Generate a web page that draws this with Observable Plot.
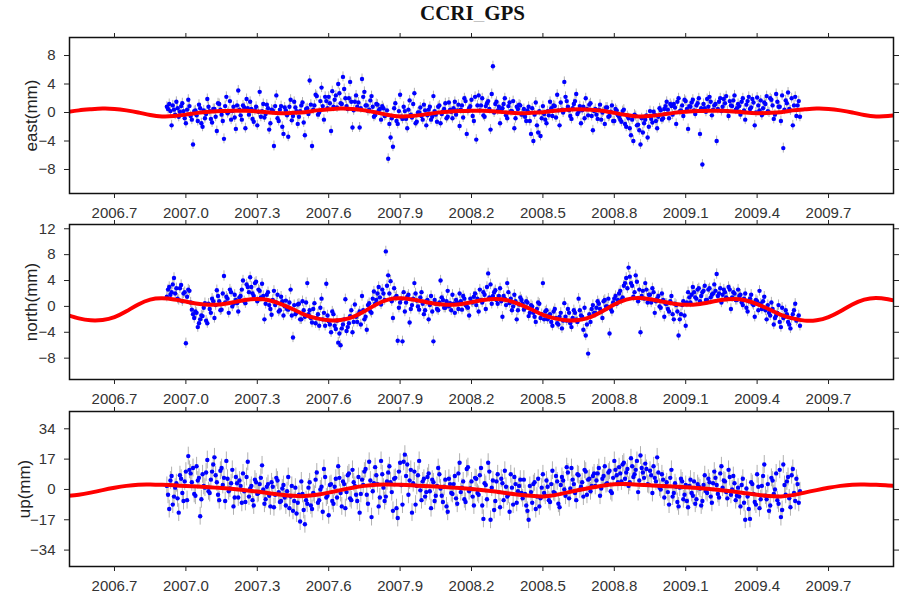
<!DOCTYPE html>
<html>
<head>
<meta charset="utf-8">
<script src="https://cdn.jsdelivr.net/npm/d3@7"></script>
<script src="https://cdn.jsdelivr.net/npm/@observablehq/plot@0.6"></script>
<style>
  html, body { margin: 0; padding: 0; background: #fff; }
  #wrap { position: relative; width: 901px; height: 598px; overflow: hidden; }
  #title { position: absolute; left: 22px; top: 1px; width: 901px; text-align: center;
           font-family: "Liberation Serif", "Times New Roman", serif; font-weight: bold; font-size: 21px; line-height: 24px; color: #111; }
  .panel { position: absolute; left: 0; }
</style>
</head>
<body>
<div id="wrap">
  <div id="title"></div>
</div>
<script>
const titleText = "CCRI_GPS";
const xTickLabels = ["2006.7","2007.0","2007.3","2007.6","2007.9","2008.2","2008.5","2008.8","2009.1","2009.4","2009.7"];
const xDomain = [2006.511, 2009.973];

// observation epochs: two interleaved sets, first epochs and sampling step (years)
const obsStartA = 2006.92;
const obsStartB = 2006.925;
const obsStep = 0.01;

const eastValues = [
  0.8, 1.2, -1.8, 0.4, 1.5, -0.6, 0.9, 0.2, -1.5, 1.8,
  -0.5, -4.5, 0.3, -1.2, 0.6, -2.0, -0.8, 1.9, 0.2, -1.4,
  0.5, -2.6, 1.2, -0.3, -3.7, 2.2, 0.1, -1.0, 0.8, -2.3,
  3.1, -0.4, 1.0, -2.2, 0.6, 1.5, -0.9, 0.3, -1.8, 2.9,
  0.2, -0.7, 1.1, -2.4, 0.4, -4.7, 2.4, -1.2, 0.9, -3.0,
  0.3, -3.4, 1.8, -0.5, 0.7, -1.6, 0.2, 1.4, -3.2, 0.6,
  4.5, -4.7, 1.0, 2.3, 0.0, 3.5, -1.0, 1.6, 2.2, -2.6,
  0.8, 2.4, 4.0, 1.3, 5.0, 2.0, 0.5, 4.3, -2.1, 1.5,
  0.8, -2.1, 4.7, 2.9, 1.0, 0.4, 2.3, -0.6, 1.2, 0.3,
  -1.0, 0.6, -0.4, -6.5, -3.5, -4.8, 1.3, -1.6, 2.5, -0.9,
  0.2, -2.2, 1.7, -0.7, 2.7, -1.3, 0.0, -0.5, 1.1, -1.8,
  0.4, -1.0, 2.3, -0.3, 0.8, -1.5, 0.1, 1.3, -0.6, 0.4,
  -0.8, 1.5, 0.3, -1.9, 1.0, 2.0, -3.0, 0.6, 1.8, -1.2,
  -3.8, 2.4, 1.0, -0.4, 0.9, 1.6, -2.4, 6.5, 1.2, 0.3,
  -1.5, 0.6, 2.0, -0.8, 1.4, 0.2, -2.2, 0.8, 1.1, -0.3,
  0.5, -1.2, 0.8, -3.0, -4.0, 1.4, -2.8, -3.3, 0.9, -1.0,
  0.2, 1.5, -0.5, 0.9, 2.5, -1.8, 0.4, 4.3, 1.6, 0.3,
  -0.9, 1.2, 2.6, 0.1, -1.5, 0.8, 2.0, -0.4, 1.3, -2.5,
  0.5, -0.9, 1.1, 0.0, -1.6, 0.7, -0.5, 1.0, -1.2, 0.3,
  -0.6, -1.3, 0.4, -2.0, -0.8, -3.2, -4.0, -0.5, -1.7, -4.5,
  -2.8, -1.0, -3.5, 0.2, -1.4, -0.3, -2.2, 0.6, -1.0, 0.5,
  1.5, -0.8, 0.9, 1.2, -1.6, 2.0, 0.3, -0.5, 1.6, -2.3,
  0.8, 1.8, -0.2, 1.3, -3.0, -7.3, 0.6, 1.9, 2.2, -0.4,
  1.0, -4.0, 1.5, 0.2, 1.9, 2.3, -0.5, 1.0, 1.7, 0.4,
  1.2, -0.3, 2.0, -1.0, 1.6, 0.5, 1.9, -1.8, 2.1, 0.3,
  -0.4, 1.4, 2.3, 0.0, 1.8, -0.9, 2.6, 0.8, -1.2, -5.0,
  1.7, 2.8, 0.3, -1.8, 2.2, 1.0, -0.6
];
const eastValuesB = [
  0.5, 0.2, 1.0, -0.3, 0.6, 0.1, 1.3, -0.8, 0.4, 0.9,
  -1.0, 0.2, -0.4, 1.1, -1.5, 0.3, -0.2, 0.8, -0.9, 0.5,
  -0.6, 1.3, 0.4, -1.2, 0.9, -0.1, 1.6, 0.2, -0.7, 1.0,
  0.4, -1.0, 0.7, 1.9, -0.3, 0.5, -1.3, 0.8, 0.1, -0.6,
  1.2, -0.2, 0.6, -1.5, 0.3, 0.9, -0.8, 0.4, -2.0, 0.7,
  -0.4, 0.8, -1.1, 1.5, 0.2, -0.6, 1.0, -1.4, 0.5, -0.2,
  1.1, 0.4, 2.5, -0.3, 1.6, 0.9, 2.2, 0.6, 1.3, 3.0,
  1.8, 0.7, 2.7, 1.2, 3.3, 0.9, 2.0, 1.5, 0.3, 2.4,
  1.4, 0.6, 2.2, 1.0, 0.2, 1.7, 0.8, -0.4, 1.1, 0.5,
  0.9, -0.5, 0.3, -1.6, -0.8, 0.6, -1.2, 0.2, -0.6, 0.8,
  -0.9, 0.4, -0.3, 1.2, -1.5, 0.0, 0.7, -1.0, 0.3, -0.4,
  0.8, -0.6, 0.2, -1.3, 1.0, -0.2, 0.5, -0.8, 1.4, 0.1,
  0.6, -0.3, 1.1, 0.4, -0.7, 1.6, 0.2, 0.9, -0.5, 2.2,
  1.0, 0.3, 2.0, -0.6, 1.3, 0.5, 2.6, 0.0, 1.5, 0.8,
  0.4, 1.2, -0.4, 0.9, 0.2, 1.6, -0.8, 0.5, 1.0, -0.2,
  -0.6, 0.3, -1.2, 0.6, -0.3, -1.8, 0.2, -0.8, -0.2, -1.5,
  -0.4, 0.6, 1.0, -0.7, 0.3, 1.4, 0.0, 2.2, 0.8, -0.5,
  0.6, 1.6, -0.2, 0.9, 0.3, -0.8, 0.5, 1.1, -0.5, 0.2,
  -0.3, 0.4, -1.0, 0.2, 0.7, -0.6, 0.1, -1.2, 0.5, -0.4,
  -1.0, 0.2, -1.6, -0.5, -2.2, -1.0, -0.3, -1.8, -2.5, -0.8,
  -1.5, -0.4, -2.0, -0.9, 0.1, -1.2, -0.6, 0.3, -0.8, 0.9,
  0.4, 1.2, -0.3, 0.7, 1.5, 0.2, 1.0, 1.8, 0.5, 0.9,
  1.4, 0.3, 1.0, 2.0, 0.6, 1.2, 0.1, 0.8, 1.5, 0.4,
  1.2, 0.5, 2.0, 0.8, 1.3, 0.2, 1.6, 0.9, 2.4, 0.6,
  0.9, 1.5, 0.3, 1.1, 2.2, 0.7, 1.4, 0.0, 1.0, 1.7,
  0.6, 1.2, 0.2, 2.0, 1.0, -0.3, 1.5, 0.8, 2.4, 0.4,
  1.3, 0.5, 2.0, 1.0, -0.5, 1.6
];

const northValues = [
  1.5, 3.0, 2.2, 4.4, 2.8, 1.0, 3.3, 2.0, -5.7, 2.6,
  0.6, -1.2, -0.8, -3.2, -2.0, -1.5, 0.5, -2.6, -0.4, 1.2,
  -1.8, 2.5, 0.8, -0.5, 4.7, 1.5, -1.0, 2.2, 0.4, 1.0,
  -0.8, 1.6, 4.0, 0.5, 3.0, 4.5, 2.0, 3.6, 0.8, 2.4,
  3.5, -2.0, 1.8, 0.2, -1.3, 2.4, 0.6, -0.8, 1.5, -1.4,
  0.9, -0.5, 2.6, -4.8, -1.2, 0.3, -2.0, 0.8, -1.6, 3.6,
  -0.6, -2.5, 0.5, -1.8, -3.0, 1.2, -1.0, 3.5, -2.3, -4.0,
  -1.2, -3.5, -5.6, -6.0, -2.8, 1.1, -3.2, -1.5, -4.0, 0.3,
  -2.4, -0.8, 1.6, -2.0, -3.6, 0.5, -1.0, 2.3, 1.0, 3.0,
  0.3, 2.0, 8.5, 4.8, 3.9, -1.8, 1.4, -5.3, 0.6, -5.4,
  -0.8, 1.5, -2.5, 0.2, 3.6, 0.9, -0.5, 2.2, -1.2, 0.8,
  -2.0, 1.6, -5.4, 0.4, -0.6, 4.0, 1.0, -0.2, 2.4, 0.5,
  1.8, -1.0, 0.6, 2.0, -0.5, 1.2, 0.0, -1.4, 0.7, 1.5,
  0.2, -0.8, 1.0, 2.2, -0.4, 5.1, 3.4, 1.6, 2.5, 0.4,
  2.8, -1.6, 1.2, 3.6, 0.5, -0.6, 1.8, -2.0, 0.3, 1.0,
  -0.5, 0.8, -1.5, 0.2, -1.0, -2.4, 0.6, -1.8, 3.6, -0.8,
  -2.0, -1.2, -3.0, -0.4, -2.6, -1.6, -3.4, 0.5, -2.2, -1.0,
  -3.2, -0.6, -2.0, 1.2, -1.4, -3.6, -4.5, -7.3, -2.4, 0.2,
  -1.0, 0.8, -0.4, -1.8, 1.0, 0.0, -4.2, -0.8, 1.2, 0.4,
  2.0, 1.0, 3.2, 4.4, 6.0, 3.6, 1.5, 4.8, 0.8, -4.0,
  2.4, 3.6, 0.6, 1.8, 2.8, -1.0, 1.2, 0.0, 2.0, -1.6,
  0.4, -0.8, 1.6, -2.0, 0.2, -4.5, -1.2, 0.8, -3.0, 2.2,
  0.6, 3.0, 1.4, 2.6, 0.8, 2.2, 3.2, 1.0, 2.8, 1.8,
  3.4, 5.0, 2.0, 0.6, 2.6, 1.4, 3.0, -0.4, 2.2, 1.0,
  2.6, 1.8, 0.2, 2.0, -0.8, 1.2, 0.4, -1.6, 0.8, 2.4,
  -0.4, 1.5, -2.0, -1.0, 0.6, -2.8, -1.4, 0.2, -3.2, -1.8,
  -0.6, -2.4, -3.4, -1.2, 0.4, -2.0, -3.0
];
const northValuesB = [
  2.6, 1.8, 3.4, 2.0, 1.2, 2.8, 0.8, 2.2, 1.5, 2.4,
  -0.5, -1.8, -1.0, -2.6, -1.4, -0.2, -2.2, 0.4, -1.0, 0.8,
  0.2, 1.6, -0.6, 2.0, 0.6, 1.2, 2.6, 0.0, 1.8, 0.5,
  1.4, 2.6, 0.8, 3.4, 2.2, 3.0, 1.6, 3.8, 2.6, 1.4,
  1.6, 0.4, 2.2, -0.4, 1.0, 0.2, 1.8, -0.6, 0.8, 0.0,
  -0.4, 0.6, -1.4, 0.2, -1.0, 0.4, -2.0, -0.6, 0.6, -1.2,
  -1.8, -0.4, -2.6, -1.2, -0.2, -2.0, -3.0, -1.4, -2.8, -0.8,
  -3.0, -2.2, -4.2, -3.4, -2.0, -3.8, -2.6, -0.6, -2.4, -1.6,
  -1.2, -2.8, -0.6, -1.6, 0.2, -0.8, 1.2, 0.4, 2.0, 1.4,
  2.6, 1.0, 3.2, 2.0, 0.8, 2.8, 1.6, -0.2, 1.2, 2.2,
  0.6, 1.8, -0.4, 1.2, 2.0, 0.0, 1.4, 0.4, -0.6, 1.0,
  0.2, -0.8, 1.0, -0.4, 0.6, 1.4, -0.2, 0.8, 0.0, -0.6,
  0.4, 1.0, -0.4, 0.8, 1.6, 0.2, -0.2, 1.2, 0.6, 2.0,
  1.2, 2.6, 0.6, 1.8, 3.0, 1.4, 0.4, 2.2, 1.0, 1.6,
  0.8, 1.6, 0.2, 2.2, 1.2, 0.0, 0.8, -0.6, 1.4, 0.4,
  -0.2, 0.6, -1.0, 0.0, -1.6, -0.4, 0.4, -1.2, -2.0, -0.6,
  -1.4, -2.4, -0.8, -1.8, -2.8, -1.0, -2.2, -1.6, -0.4, -2.6,
  -1.8, -1.0, -2.4, -0.6, -1.6, -0.2, -2.8, -1.2, -0.4, -1.0,
  -0.2, 0.4, -0.8, 0.8, 0.0, 1.2, -0.4, 0.6, 1.6, 1.0,
  2.4, 1.4, 3.6, 2.8, 4.6, 3.2, 2.2, 3.8, 2.6, 1.6,
  1.2, 2.6, 1.8, 0.6, 2.2, 0.8, 1.6, -0.2, 1.0, 0.4,
  -0.4, 0.8, -1.2, 0.4, -0.8, -2.0, 0.2, -1.4, 0.6, 1.4,
  1.8, 2.2, 1.2, 2.8, 1.6, 2.4, 1.0, 2.6, 1.4, 2.0,
  2.4, 1.6, 2.8, 1.8, 2.2, 1.2, 2.6, 1.4, 2.0, 1.0,
  1.6, 0.6, 1.2, -0.2, 0.8, 1.8, 0.2, 1.0, -0.6, 0.4,
  0.8, -0.6, 0.2, -1.4, -0.4, -1.8, -1.0, -2.4, -0.2, -1.6,
  -1.2, -2.8, -1.8, -0.6, -2.2, -1.4
];

const upValues = [
  2.0, -11.0, 7.5, -4.0, 3.5, -13.0, 6.0, -6.5, 10.0, 18.7,
  9.0, 12.0, -3.5, 5.0, -15.0, 8.5, 1.0, 16.5, -2.0, 10.0,
  18.0, 4.0, -6.0, 12.0, 6.5, 16.0, -1.0, 3.5, -9.5, 7.0,
  -4.5, 2.0, 9.0, -7.0, 15.5, 0.5, -6.0, 5.5, -2.5, 3.0,
  13.5, -8.0, 1.5, -3.5, 4.0, -10.0, 6.5, -1.5, -6.5, 2.5,
  -9.0, 7.0, -4.0, -12.0, 1.0, -7.5, -18.0, -2.5, -19.5, -8.0,
  4.0, -11.0, -3.0, 9.5, -6.0, 1.5, 11.5, -4.5, -14.5, 3.0,
  -8.0, 6.0, 13.0, -2.0, 4.5, -10.5, 8.0, -5.0, 11.0, 2.0,
  -6.5, -13.0, 5.5, 10.0, -3.0, 15.5, -15.5, 3.5, 8.0, -9.5,
  16.0, 1.0, -4.0, 9.5, 4.0, -12.0, 6.5, -16.0, 15.0, -8.5,
  19.5, 14.0, 5.0, -13.0, 10.0, 2.0, 16.0, -6.0, 6.0, -1.5,
  9.0, -10.5, 4.0, -3.5, 12.0, 0.5, -7.0, 5.5, -12.5, 3.0,
  -2.5, 7.5, -8.0, 15.0, 1.0, -5.5, 11.5, -1.0, 4.5, -9.0,
  6.0, -3.0, 12.0, -16.5, 2.5, 15.0, -17.0, 5.0, -6.5, 8.5,
  -10.0, 3.5, 10.5, -4.0, -12.5, 1.0, 7.0, -7.5, 2.0, -2.0,
  5.5, -9.0, -17.0, -1.5, 3.0, -11.0, 6.0, -5.0, 8.5, -3.5,
  1.5, -7.0, 10.5, -2.0, 4.5, -10.0, 7.0, 0.0, 12.5, -5.0,
  12.0, 3.0, -6.0, 8.0, 1.5, -4.0, 10.0, 5.5, -1.0, 7.5,
  2.0, 9.0, -3.5, 6.0, 13.0, 3.5, 10.5, -2.0, 16.0, 8.0,
  12.5, 4.5, 15.0, 9.5, 2.0, 17.5, 7.0, 11.0, -1.5, 19.0,
  9.5, 14.5, 3.0, 10.5, -2.0, 6.5, 18.0, 1.0, 8.5, -4.5,
  4.0, -8.5, 11.0, -2.0, 1.5, -9.5, 6.0, -5.5, 2.5, -10.0,
  5.5, -3.5, -8.0, 3.0, 0.5, -6.5, 8.0, -2.0, 4.0, -7.5,
  10.0, 2.5, -4.5, 13.0, 5.0, -1.5, 11.0, -3.0, 7.5, -6.0,
  1.0, -9.5, 6.0, -17.0, -4.0, -16.5, 3.0, -7.0, 8.5, -10.5,
  2.0, 14.0, -5.5, -12.0, 6.5, -2.5, 9.0, -8.0, -15.5, 14.0,
  -3.0, 7.0, -10.0, 11.5, -6.5, 3.0, -1.0
];
const upValuesB = [
  -3.0, 5.0, -8.5, 1.0, -5.0, 8.0, -2.0, 4.5, -6.0, 11.0,
  4.0, -2.5, 13.0, 6.5, -5.5, 2.0, 9.5, -1.0, 5.5, 14.0,
  8.0, -3.0, 10.5, 2.5, -6.5, 6.0, 0.5, 11.0, -4.5, 3.5,
  5.0, -7.5, -1.0, 7.0, -4.0, 2.0, -9.0, 4.0, -2.0, 6.5,
  0.0, -5.5, 3.0, -9.5, 1.5, -3.0, 5.0, -7.0, 0.5, -4.5,
  -1.0, -10.5, 2.0, -6.5, -13.5, -3.0, 4.5, -11.5, -6.0, 1.0,
  -9.0, -2.0, 5.5, -7.5, 0.0, -12.5, 7.0, -3.5, 2.5, -6.5,
  1.5, -4.5, 6.5, -9.5, 3.0, -1.5, 9.0, -6.0, 4.0, -3.0,
  7.0, -2.5, 2.5, 11.5, -8.0, 5.0, -1.0, 12.5, 3.0, -4.5,
  8.5, -6.5, 4.5, 13.0, -1.5, 6.0, -10.5, 10.0, 2.5, 15.5,
  7.5, -3.0, 11.0, 3.5, -8.5, 8.0, -0.5, 4.5, -4.0, 7.0,
  -1.0, 5.5, -6.5, 2.0, 8.5, -3.5, 1.5, -9.5, 6.0, -2.0,
  3.0, -5.0, 9.0, -1.5, 4.5, -7.0, 12.5, 0.5, -4.0, 6.5,
  -2.0, 8.0, -9.0, 3.5, -5.5, 10.0, 1.0, -11.5, 4.5, -1.5,
  6.0, -6.0, 1.5, -3.0, 8.5, -8.5, 3.0, -1.0, 5.5, -5.0,
  -2.5, -12.0, 2.0, -7.5, 4.0, -4.0, -9.5, 1.0, -2.0, 5.0,
  -6.0, 3.0, -1.5, 7.5, -8.0, 2.5, 5.0, -3.5, 9.5, 0.5,
  5.5, -2.0, 8.5, 0.0, 4.0, 11.0, -3.0, 6.0, 2.0, 9.0,
  5.0, 12.0, 0.5, 7.5, 3.0, 9.5, -1.0, 6.5, 11.0, 4.0,
  9.0, 14.0, 6.0, 11.5, 4.0, 13.0, 8.5, 16.0, 5.0, 12.0,
  6.5, 11.5, 2.5, 8.0, 13.0, 4.5, 9.5, 0.0, 5.5, 2.0,
  -1.5, 6.5, -4.0, 3.5, -7.0, 1.0, 4.5, -3.0, -6.5, 2.0,
  -2.0, 4.5, -5.5, 1.5, -9.0, 2.5, -1.0, 6.0, -4.0, 3.5,
  6.5, -2.5, 9.0, 1.0, 4.5, -5.0, 7.0, 0.0, 3.5, -3.5,
  -4.0, 2.5, -7.5, 0.5, -11.0, 4.0, -2.5, -8.5, 1.5, -5.5,
  7.5, -3.5, 3.0, -9.0, 5.0, 0.0, -6.0, 11.0, -11.5, 2.5,
  4.5, -5.0, 8.0, -2.0, 6.0, -7.5
];

// formal errors (mm) for the error bars
const eastSigma = 0.7, northSigma = 0.8, upSigma = 5.0;

// red model curve read every 0.05 yr from 2006.50 to 2010.00
const modelStart = 2006.50;
const modelStep = 0.05;
const eastModel = [
  0.05, 0.3, 0.45, 0.55, 0.5, 0.3, 0.0, -0.35, -0.55, -0.5,
  -0.3, -0.05, 0.1, 0.2, 0.25, 0.25, 0.15, 0.0, -0.1, -0.05,
  0.05, 0.3, 0.45, 0.55, 0.5, 0.3, 0.0, -0.35, -0.55, -0.5,
  -0.3, -0.05, 0.1, 0.2, 0.25, 0.25, 0.15, 0.0, -0.1, -0.05,
  0.05, 0.25, 0.4, 0.45, 0.4, 0.25, -0.05, -0.35, -0.55, -0.5,
  -0.3, -0.05, 0.1, 0.2, 0.25, 0.25, 0.15, 0.0, -0.1, -0.05,
  0.05, 0.3, 0.45, 0.55, 0.5, 0.3, 0.0, -0.35, -0.55, -0.5,
  -0.3
];
const northModel = [
  -1.3, -1.85, -2.15, -2.1, -1.65, -0.75, 0.3, 1.05, 1.25, 1.08,
  0.75, 0.42, 0.26, 0.34, 0.65, 0.99, 1.13, 0.95, 0.35, -0.45,
  -1.3, -1.85, -2.15, -2.1, -1.65, -0.75, 0.3, 1.05, 1.25, 1.08,
  0.75, 0.42, 0.26, 0.34, 0.65, 0.99, 1.13, 0.95, 0.35, -0.45,
  -1.3, -1.85, -2.15, -2.1, -1.65, -0.75, 0.3, 1.05, 1.28, 1.1,
  0.75, 0.42, 0.26, 0.34, 0.65, 0.99, 1.15, 0.95, 0.35, -0.45,
  -1.3, -1.85, -2.2, -2.15, -1.65, -0.75, 0.3, 1.05, 1.3, 1.1,
  0.75
];
const upModel = [
  -3.7, -3.0, -1.8, -0.4, 0.9, 2.0, 2.7, 2.8, 2.6, 2.3,
  1.9, 1.6, 1.2, 0.8, 0.3, -0.4, -1.2, -2.1, -3.0, -3.6,
  -3.7, -3.0, -1.8, -0.4, 0.9, 2.0, 2.7, 2.8, 2.6, 2.3,
  1.9, 1.6, 1.2, 0.8, 0.3, -0.4, -1.2, -2.1, -3.0, -3.6,
  -3.9, -3.2, -1.8, -0.3, 1.0, 2.1, 2.9, 3.0, 2.7, 2.3,
  1.9, 1.6, 1.2, 0.8, 0.3, -0.4, -1.2, -2.1, -3.0, -3.7,
  -3.9, -3.2, -1.8, -0.4, 0.9, 2.0, 2.7, 2.8, 2.6, 2.2,
  1.8
];

const panels = [
  {label: "east(mm)", values: eastValues, valuesB: eastValuesB, sigma: eastSigma, model: eastModel, yTicks: [-8, -4, 0, 4, 8], yDomain: [-11.37, 10.53], top: 22, height: 196, mt: 15, mb: 25, labelDx: -38},
  {label: "north(mm)", values: northValues, valuesB: northValuesB, sigma: northSigma, model: northModel, yTicks: [-8, -4, 0, 4, 8, 12], yDomain: [-11.3, 12.66], top: 218, height: 186, mt: 6, mb: 25, labelDx: -38},
  {label: "up(mm)", values: upValues, valuesB: upValuesB, sigma: upSigma, model: upModel, yTicks: [-34, -17, 0, 17, 34], yDomain: [-43.2, 43.7], top: 404, height: 194, mt: 7, mb: 32, labelDx: -45}
];

const xTicks = xTickLabels.map(Number);
const fmtY = d => d < 0 ? "\u2212" + (-d) : String(d);
const wrap = document.getElementById("wrap");
document.getElementById("title").textContent = titleText;

for (const p of panels) {
  const obs = p.values.map((v, i) => ({t: obsStartA + i * obsStep, v}))
    .concat(p.valuesB.map((v, i) => ({t: obsStartB + i * obsStep, v})));
  const model = p.model.map((v, i) => ({t: modelStart + i * modelStep, v}));
  const chart = Plot.plot({
    width: 901,
    height: p.height,
    marginLeft: 69,
    marginRight: 8,
    marginTop: p.mt,
    marginBottom: p.mb,
    style: {fontFamily: "'Liberation Sans', Arial, Helvetica, sans-serif", fontSize: "15px", color: "#333", background: "white", overflow: "visible"},
    x: {domain: xDomain, axis: null},
    y: {domain: p.yDomain, axis: null},
    marks: [
      Plot.ruleX(obs, {x: "t", y1: d => d.v - p.sigma, y2: d => d.v + p.sigma, stroke: "#b0b0b0", strokeWidth: 1, clip: true}),
      Plot.dot(obs, {x: "t", y: "v", r: 2.2, fill: "#0000ff", stroke: "none", clip: true}),
      Plot.line(model, {x: "t", y: "v", stroke: "#ff0000", strokeWidth: 4, curve: "natural", clip: true}),
      Plot.frame({stroke: "#111", strokeWidth: 1.5}),
      Plot.axisX({ticks: xTicks, anchor: "bottom", tickSize: 5, tickPadding: 9, tickFormat: d => d.toFixed(1), label: null, fontSize: 15, stroke: "#222"}),
      Plot.axisX({ticks: xTicks, anchor: "top", tickSize: 5, tickFormat: () => "", label: null, stroke: "#222"}),
      Plot.axisY({ticks: p.yTicks, anchor: "left", tickSize: 5, tickPadding: 9, tickFormat: fmtY, label: null, fontSize: 15, stroke: "#222"}),
      Plot.axisY({ticks: p.yTicks, anchor: "right", tickSize: 5, tickFormat: () => "", label: null, stroke: "#222"}),
      Plot.text([p.label], {frameAnchor: "left", dx: p.labelDx, rotate: -90, textAnchor: "middle", fontSize: 17, fill: "#222", text: d => d})
    ]
  });
  chart.classList.add("panel");
  chart.style.top = p.top + "px";
  wrap.appendChild(chart);
}
</script>
</body>
</html>
